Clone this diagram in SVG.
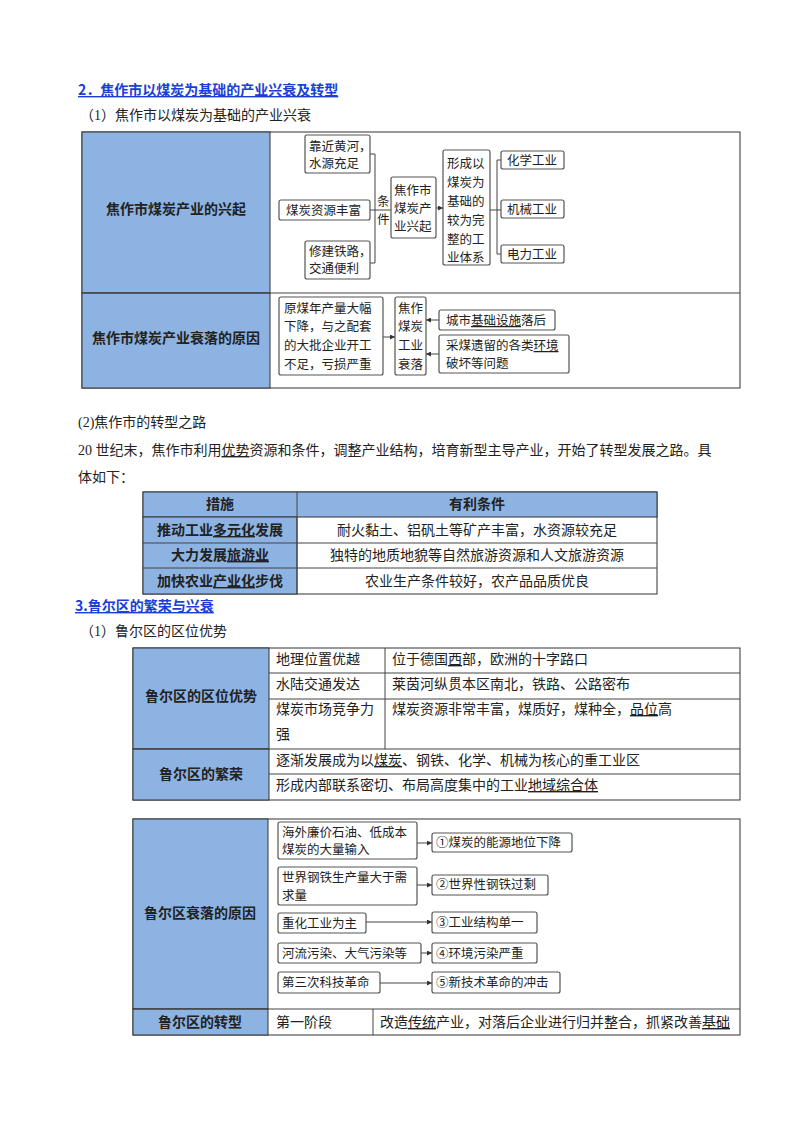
<svg xmlns="http://www.w3.org/2000/svg" width="800" height="1134" viewBox="0 0 800 1134">
<defs>
<style>
text{font-family:"Liberation Serif","Noto Sans CJK SC",serif;fill:#222}
.t{font-size:14px}
.n{font-size:12.5px}
.b{font-weight:bold;font-family:"Noto Sans CJK SC",sans-serif}
.h{font-size:14px;font-weight:bold;fill:#1a3fd6;text-decoration:underline;font-family:"Noto Sans CJK SC",sans-serif}
.blue{fill:#8db3e2;stroke:#333;stroke-width:1}
.cell{fill:#fff;stroke:#333;stroke-width:1}
.box{fill:#fff;stroke:#555;stroke-width:1.2}
.ln{fill:none;stroke:#444;stroke-width:1}
.tl{stroke:#444;stroke-width:1}
</style>
<marker id="a" viewBox="0 0 6 6" refX="6" refY="3" markerWidth="5" markerHeight="5" orient="auto"><path d="M0,0L6,3L0,6z" fill="#333"/></marker>
</defs>
<rect width="800" height="1134" fill="#fff"/>

<text class="h" x="78" y="95">2．焦作市以煤炭为基础的产业兴衰及转型</text>
<text class="t" x="80" y="120">（1）焦作市以煤炭为基础的产业兴衰</text>

<!-- table 1 -->
<rect class="cell" x="82" y="132" width="658" height="256"/>
<rect class="blue" x="82" y="132" width="188" height="161"/>
<rect class="blue" x="82" y="293" width="188" height="95"/>
<line class="tl" x1="82" y1="293" x2="740" y2="293"/>
<text class="t b" x="176" y="214" text-anchor="middle">焦作市煤炭产业的兴起</text>
<text class="t b" x="176" y="343" text-anchor="middle">焦作市煤炭产业衰落的原因</text>

<g id="connectors1">
<path class="ln" d="M370,154H375V263H370M370,210H391"/>
<line class="ln" x1="436" y1="208" x2="443" y2="208" marker-end="url(#a)"/>
<path class="ln" d="M501,160H497V254H501M490,210H501"/>
<line class="ln" x1="383" y1="337" x2="395" y2="337" marker-end="url(#a)"/>
<line class="ln" x1="439" y1="320" x2="426" y2="320" marker-end="url(#a)"/>
<line class="ln" x1="439" y1="354" x2="426" y2="354" marker-end="url(#a)"/>
</g>
<g id="n1"><rect class="box" x="305" y="135" width="65" height="38" rx="2"/><text class="n" x="309" y="151">靠近黄河，</text><text class="n" x="309" y="168">水源充足</text></g>
<g id="n2"><rect class="box" x="279" y="200" width="91" height="20" rx="2"/><text class="n" x="286" y="215">煤炭资源丰富</text></g>
<g id="n3"><rect class="box" x="305" y="241" width="65" height="38" rx="2"/><text class="n" x="309" y="256">修建铁路，</text><text class="n" x="309" y="273">交通便利</text></g>
<text class="n" x="377" y="206">条</text><text class="n" x="377" y="224">件</text>
<g id="n4"><rect class="box" x="391" y="177" width="45" height="61" rx="2"/><text class="n" x="394" y="195">焦作市</text><text class="n" x="394" y="213">煤炭产</text><text class="n" x="394" y="231">业兴起</text></g>
<g id="n5"><rect class="box" x="443" y="150" width="47" height="115" rx="2"/>
<text class="n" x="447" y="168">形成以</text><text class="n" x="447" y="187">煤炭为</text><text class="n" x="447" y="206">基础的</text><text class="n" x="447" y="225">较为完</text><text class="n" x="447" y="244">整的工</text><text class="n" x="447" y="262">业体系</text></g>
<g id="n6"><rect class="box" x="501" y="151" width="63" height="18" rx="2"/><text class="n" x="507" y="165">化学工业</text></g>
<g id="n7"><rect class="box" x="501" y="200" width="63" height="18" rx="2"/><text class="n" x="507" y="214">机械工业</text></g>
<g id="n8"><rect class="box" x="501" y="245" width="63" height="18" rx="2"/><text class="n" x="507" y="259">电力工业</text></g>
<g id="n9"><rect class="box" x="279" y="297" width="104" height="78" rx="2"/>
<text class="n" x="284" y="313">原煤年产量大幅</text><text class="n" x="284" y="331">下降，与之配套</text><text class="n" x="284" y="350">的大批企业开工</text><text class="n" x="284" y="369">不足，亏损严重</text></g>
<g id="n10"><rect class="box" x="395" y="297" width="31" height="78" rx="2"/>
<text class="n" x="398" y="313">焦作</text><text class="n" x="398" y="331">煤炭</text><text class="n" x="398" y="350">工业</text><text class="n" x="398" y="369">衰落</text></g>
<g id="n11"><rect class="box" x="439" y="310" width="116" height="20" rx="2"/><text class="n" x="446" y="325">城市<tspan text-decoration="underline">基础设施</tspan>落后</text></g>
<g id="n12"><rect class="box" x="439" y="335" width="130" height="38" rx="2"/><text class="n" x="446" y="350">采煤遗留的各类<tspan text-decoration="underline">环境</tspan></text><text class="n" x="446" y="368">破坏等问题</text></g>

<text class="t" x="78" y="427">(2)焦作市的转型之路</text>
<text class="t" x="78" y="455">20 世纪末，焦作市利用<tspan text-decoration="underline">优势</tspan>资源和条件，调整产业结构，培育新型主导产业，开始了转型发展之路。具</text>
<text class="t" x="78" y="482">体如下：</text>

<!-- table 2 -->
<rect class="cell" x="143" y="492" width="514" height="102"/>
<rect class="blue" x="143" y="492" width="514" height="25"/>
<rect class="blue" x="143" y="517" width="154" height="77"/>
<line class="tl" x1="143" y1="543" x2="657" y2="543"/>
<line class="tl" x1="143" y1="568" x2="657" y2="568"/>
<line class="tl" x1="297" y1="492" x2="297" y2="594"/>
<text class="t b" x="220" y="509" text-anchor="middle">措施</text>
<text class="t b" x="477" y="509" text-anchor="middle">有利条件</text>
<text class="t b" x="220" y="535" text-anchor="middle">推动工业<tspan text-decoration="underline">多元化</tspan>发展</text>
<text class="t b" x="220" y="560" text-anchor="middle">大力发展<tspan text-decoration="underline">旅游业</tspan></text>
<text class="t b" x="220" y="586" text-anchor="middle">加快农业<tspan text-decoration="underline">产业化</tspan>步伐</text>
<text class="t" x="477" y="535" text-anchor="middle">耐火黏土、铝矾土等矿产丰富，水资源较充足</text>
<text class="t" x="477" y="560" text-anchor="middle">独特的地质地貌等自然旅游资源和人文旅游资源</text>
<text class="t" x="477" y="586" text-anchor="middle">农业生产条件较好，农产品品质优良</text>

<text class="h" x="75" y="611">3.鲁尔区的繁荣与兴衰</text>
<text class="t" x="80" y="636">（1）鲁尔区的区位优势</text>

<!-- table 3 -->
<rect class="cell" x="133" y="648" width="607" height="152"/>
<rect class="blue" x="133" y="648" width="136" height="101"/>
<rect class="blue" x="133" y="749" width="136" height="51"/>
<line class="tl" x1="269" y1="673" x2="740" y2="673"/>
<line class="tl" x1="269" y1="699" x2="740" y2="699"/>
<line class="tl" x1="133" y1="749" x2="740" y2="749"/>
<line class="tl" x1="269" y1="774" x2="740" y2="774"/>
<line class="tl" x1="385" y1="648" x2="385" y2="749"/>
<text class="t b" x="201" y="701" text-anchor="middle">鲁尔区的区位优势</text>
<text class="t b" x="201" y="779" text-anchor="middle">鲁尔区的繁荣</text>
<text class="t" x="276" y="664">地理位置优越</text>
<text class="t" x="276" y="689">水陆交通发达</text>
<text class="t" x="276" y="714">煤炭市场竞争力</text>
<text class="t" x="276" y="739">强</text>
<text class="t" x="392" y="664">位于德国<tspan text-decoration="underline">西</tspan>部，欧洲的十字路口</text>
<text class="t" x="392" y="689">莱茵河纵贯本区南北，铁路、公路密布</text>
<text class="t" x="392" y="714">煤炭资源非常丰富，煤质好，煤种全，<tspan text-decoration="underline">品位</tspan>高</text>
<text class="t" x="276" y="765">逐渐发展成为以<tspan text-decoration="underline">煤炭</tspan>、钢铁、化学、机械为核心的重工业区</text>
<text class="t" x="276" y="790">形成内部联系密切、布局高度集中的工业<tspan text-decoration="underline">地域综合体</tspan></text>

<!-- table 4 -->
<rect class="cell" x="133" y="819" width="607" height="216"/>
<rect class="blue" x="133" y="819" width="135" height="190"/>
<rect class="blue" x="133" y="1009" width="135" height="26"/>
<line class="tl" x1="133" y1="1009" x2="740" y2="1009"/>
<line class="tl" x1="373" y1="1009" x2="373" y2="1035"/>
<text class="t b" x="200" y="918" text-anchor="middle">鲁尔区衰落的原因</text>
<text class="t b" x="200" y="1027" text-anchor="middle">鲁尔区的转型</text>
<text class="t" x="276" y="1027">第一阶段</text>
<text class="t" x="380" y="1027">改造<tspan text-decoration="underline">传统</tspan>产业，对落后企业进行归并整合，抓紧改善<tspan text-decoration="underline">基础</tspan></text>

<g id="connectors2">
<line class="ln" x1="417" y1="843" x2="432" y2="843" marker-end="url(#a)"/>
<line class="ln" x1="417" y1="885" x2="432" y2="885" marker-end="url(#a)"/>
<line class="ln" x1="366" y1="922" x2="432" y2="922" marker-end="url(#a)"/>
<line class="ln" x1="421" y1="953" x2="432" y2="953" marker-end="url(#a)"/>
<line class="ln" x1="380" y1="983" x2="432" y2="983" marker-end="url(#a)"/>
</g>
<g id="r1"><rect class="box" x="278" y="822" width="139" height="37" rx="2"/><text class="n" x="282" y="837">海外廉价石油、低成本</text><text class="n" x="282" y="854">煤炭的大量输入</text></g>
<g id="r2"><rect class="box" x="278" y="867" width="139" height="38" rx="2"/><text class="n" x="282" y="882">世界钢铁生产量大于需</text><text class="n" x="282" y="900">求量</text></g>
<g id="r3"><rect class="box" x="278" y="913" width="88" height="20" rx="2"/><text class="n" x="282" y="928">重化工业为主</text></g>
<g id="r4"><rect class="box" x="278" y="943" width="143" height="20" rx="2"/><text class="n" x="282" y="958">河流污染、大气污染等</text></g>
<g id="r5"><rect class="box" x="278" y="972" width="102" height="21" rx="2"/><text class="n" x="282" y="987">第三次科技革命</text></g>
<g id="s1"><rect class="box" x="432" y="833" width="140" height="19" rx="2"/><text class="n" x="436" y="847">①煤炭的能源地位下降</text></g>
<g id="s2"><rect class="box" x="432" y="875" width="116" height="20" rx="2"/><text class="n" x="436" y="889">②世界性钢铁过剩</text></g>
<g id="s3"><rect class="box" x="432" y="912" width="105" height="21" rx="2"/><text class="n" x="436" y="927">③工业结构单一</text></g>
<g id="s4"><rect class="box" x="432" y="943" width="105" height="20" rx="2"/><text class="n" x="436" y="958">④环境污染严重</text></g>
<g id="s5"><rect class="box" x="432" y="972" width="128" height="21" rx="2"/><text class="n" x="436" y="987">⑤新技术革命的冲击</text></g>
</svg>
